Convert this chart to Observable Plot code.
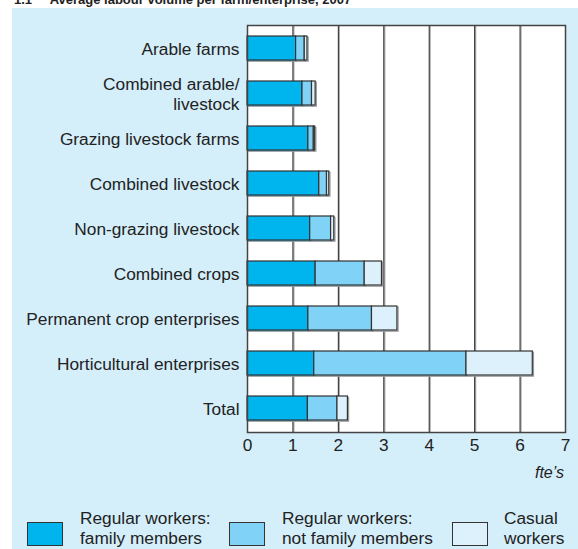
<!DOCTYPE html>
<html>
<head>
<meta charset="utf-8">
<script src="https://cdn.jsdelivr.net/npm/d3@7"></script>
<script src="https://cdn.jsdelivr.net/npm/@observablehq/plot@0.6"></script>
<style>
  html, body { margin: 0; padding: 0; background: #ffffff; }
  body { width: 578px; height: 549px; position: relative; overflow: hidden;
         font-family: "Liberation Sans", Arial, Helvetica, sans-serif; color: #222; }
  #panel { position: absolute; left: 12px; top: 8px; width: 566px; height: 541px; background: #d4eefa; }
  #title { position: absolute; left: 14px; top: -7px; font-size: 13px; line-height: 13px; font-weight: bold; white-space: pre; color: #222; }
  #chart { position: absolute; left: 0; top: 0; }
  .unit { position: absolute; left: 500px; top: 464px; width: 64px; text-align: right; font-style: italic; font-size: 16px; }
  .sw { position: absolute; width: 36px; height: 24px; border: 1.3px solid #333; box-sizing: border-box; top: 522px; }
  .lt { position: absolute; font-size: 17.3px; line-height: 20px; top: 508px; white-space: nowrap; color: #222; }
</style>
</head>
<body>
<div id="panel"></div>
<div id="title">1.1     Average labour volume per farm/enterprise, 2007</div>
<div id="chart"></div>
<div class="unit">fte’s</div>
<div id="legend"></div>
<script>
const categories = [
  "Arable farms",
  "Combined arable/\nlivestock",
  "Grazing livestock farms",
  "Combined livestock",
  "Non-grazing livestock",
  "Combined crops",
  "Permanent crop enterprises",
  "Horticultural enterprises",
  "Total"
];
const seriesNames = ["Regular workers:\nfamily members", "Regular workers:\nnot family members", "Casual\nworkers"];
const familyMembers    = [1.07, 1.21, 1.34, 1.58, 1.38, 1.50, 1.34, 1.47, 1.33];
const notFamilyMembers = [0.19, 0.21, 0.12, 0.17, 0.46, 1.08, 1.40, 3.35, 0.65];
const casualWorkers    = [0.06, 0.08, 0.03, 0.05, 0.07, 0.38, 0.56, 1.46, 0.23];
const xTicks = [0, 1, 2, 3, 4, 5, 6, 7];
const colors = ["#00b5ee", "#80d3f6", "#dcf1fb"];

const seriesValues = [familyMembers, notFamilyMembers, casualWorkers];
const data = [];
seriesNames.forEach((s, si) => {
  categories.forEach((c, ci) => {
    data.push({category: c, series: s, value: seriesValues[si][ci]});
  });
});

const chart = Plot.plot({
  width: 578,
  height: 549,
  marginLeft: 247,
  marginRight: 13,
  marginTop: 25,
  marginBottom: 117,
  style: {background: "transparent", fontFamily: "'Liberation Sans', Arial, Helvetica, sans-serif", fontSize: "17px", color: "#222"},
  x: {domain: [0, 7], ticks: xTicks},
  y: {domain: categories, paddingInner: 0.46, paddingOuter: 0.21},
  color: {domain: seriesNames, range: colors},
  marks: [
    Plot.frame({fill: "white", stroke: null}),
    Plot.gridX(xTicks.slice(1, 7), {stroke: "#aaa", strokeOpacity: 1, strokeWidth: 1.2, dx: 1}),
    Plot.gridX(xTicks.slice(1, 7), {stroke: "#333", strokeOpacity: 1, strokeWidth: 1.1}),
    Plot.barX(data, Plot.stackX({x: "value", y: "category", fill: "series", dx: 1.2, dy: 1.2, stroke: "#999", strokeWidth: 1.2})),
    Plot.barX(data, Plot.stackX({x: "value", y: "category", fill: "series", stroke: "#333", strokeWidth: 1.2})),
    Plot.frame({stroke: "#444", strokeWidth: 1.5}),
    Plot.axisX({ticks: xTicks, tickSize: 0, tickPadding: 6, fontSize: 17.3, label: null, tickFormat: d => String(d)}),
    Plot.axisY({tickSize: 0, tickPadding: 8, fontSize: 17.3, label: null, lineHeight: 1.16})
  ]
});
document.getElementById("chart").appendChild(chart);

const legend = document.getElementById("legend");
const swX = [27, 229, 452];
const ltX = [80, 282, 504];
seriesNames.forEach((s, i) => {
  const sw = document.createElement("div");
  sw.className = "sw";
  sw.style.left = swX[i] + "px";
  sw.style.background = colors[i];
  legend.appendChild(sw);
  const t = document.createElement("div");
  t.className = "lt";
  t.style.left = ltX[i] + "px";
  t.innerHTML = s.split("\n").join("<br>");
  legend.appendChild(t);
});
</script>
</body>
</html>
